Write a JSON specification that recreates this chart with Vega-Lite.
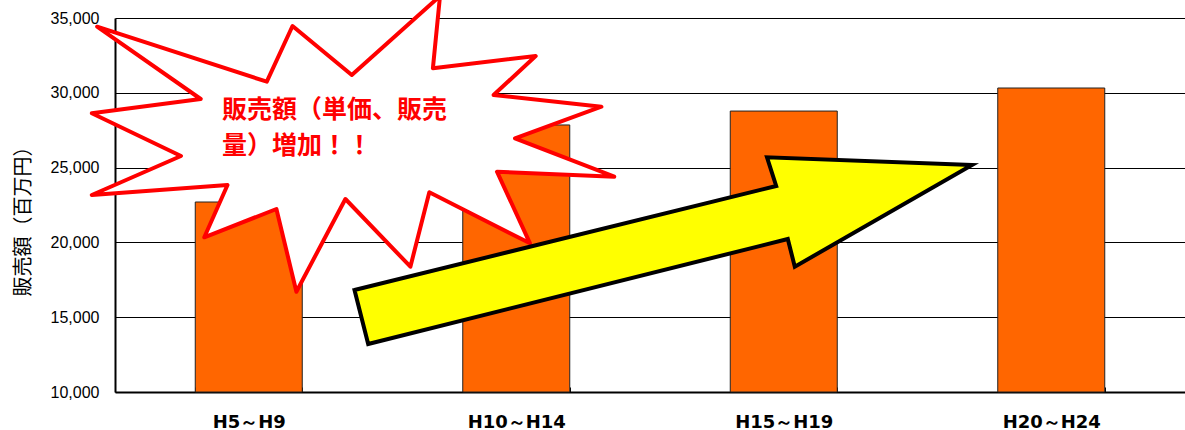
{
  "$schema": "https://vega.github.io/schema/vega-lite/v6.json",
  "width": 1070,
  "height": 374,
  "autosize": "none",
  "padding": {"left": 115, "top": 18, "right": 0, "bottom": 38},
  "background": "white",
  "config": {"view": {"stroke": null}},
  "datasets": {
    "sales": [
      {"period": "H5～H9", "v": 22700},
      {"period": "H10～H14", "v": 27850},
      {"period": "H15～H19", "v": 28780},
      {"period": "H20～H24", "v": 30320}
    ],
    "burst": [
      {"i": 1, "u": -0.0669, "v": 34418},
      {"i": 2, "u": 0.3204, "v": 29586},
      {"i": 3, "u": -0.0867, "v": 28630},
      {"i": 4, "u": 0.2467, "v": 25775},
      {"i": 5, "u": -0.0867, "v": 23168},
      {"i": 6, "u": 0.4206, "v": 23837},
      {"i": 7, "u": 0.3338, "v": 20341},
      {"i": 8, "u": 0.6034, "v": 22233},
      {"i": 9, "u": 0.6781, "v": 16705},
      {"i": 10, "u": 0.8613, "v": 22901},
      {"i": 11, "u": 1.1043, "v": 18376},
      {"i": 12, "u": 1.175, "v": 23349},
      {"i": 13, "u": 1.5514, "v": 19940},
      {"i": 14, "u": 1.428, "v": 24726},
      {"i": 15, "u": 1.8666, "v": 24392},
      {"i": 16, "u": 1.4953, "v": 26959},
      {"i": 17, "u": 1.8183, "v": 29071},
      {"i": 18, "u": 1.4153, "v": 29853},
      {"i": 19, "u": 1.5727, "v": 32460},
      {"i": 20, "u": 1.1884, "v": 31638},
      {"i": 21, "u": 1.215, "v": 36471},
      {"i": 22, "u": 0.8852, "v": 31190},
      {"i": 23, "u": 0.6636, "v": 34465},
      {"i": 24, "u": 0.5675, "v": 30742},
      {"i": 25, "u": -0.0669, "v": 34418},
      {"i": 26, "u": 0.3204, "v": 29586}
    ],
    "arrow": [
      {"i": 1, "u": 0.8953, "v": 16818},
      {"i": 2, "u": 2.4718, "v": 23770},
      {"i": 3, "u": 2.4374, "v": 25689},
      {"i": 4, "u": 3.2037, "v": 25174},
      {"i": 5, "u": 2.5413, "v": 18376},
      {"i": 6, "u": 2.5151, "v": 20227},
      {"i": 7, "u": 0.9465, "v": 13209},
      {"i": 8, "u": 0.8953, "v": 16818},
      {"i": 9, "u": 2.4718, "v": 23770}
    ],
    "notes": [
      {"u": 0.4, "v": 28850, "t": "販売額（単価、販売"},
      {"u": 0.4, "v": 26444, "t": "量）増加！！"}
    ]
  },
  "encoding": {
    "y": {
      "field": "v", "type": "quantitative",
      "scale": {"domain": [10000, 35000], "nice": false, "zero": false},
      "axis": {
        "title": "販売額（百万円）",
        "values": [10000, 15000, 20000, 25000, 30000, 35000], "format": ",d",
        "labelFont": "Liberation Sans", "labelFontSize": 16, "labelColor": "#000000",
        "labelPadding": 16, "ticks": false, "domainColor": "#000000", "domainWidth": 2,
        "grid": true, "gridColor": "#000000", "gridWidth": 1,
        "titleFont": "Noto Sans CJK JP", "titleFontSize": 20, "titleFontWeight": "normal",
        "titleColor": "#000000", "titleX": -92, "titleY": 198, "titleBaseline": "middle", "titleAlign": "center"
      }
    }
  },
  "layer": [
    {
      "data": {"name": "sales"},
      "mark": {"type": "bar", "color": "#FF6600", "stroke": "#222222", "strokeWidth": 1},
      "encoding": {
        "x": {
          "field": "period", "type": "nominal", "sort": null,
          "scale": {"paddingInner": 0.6, "paddingOuter": 0.3},
          "axis": {
            "title": null, "labelAngle": 0, "labelFont": "DejaVu Sans", "labelFontSize": 18,
            "labelFontWeight": "bold", "labelColor": "#000000", "labelPadding": 35,
            "labelBaseline": "middle", "domainColor": "#000000", "domainWidth": 2,
            "tickColor": "#000000", "tickSize": -5, "tickWidth": 1, "tickBand": "extent", "grid": false
          }
        },
        "y2": {"datum": 10000}
      }
    },
    {
      "data": {"name": "burst"},
      "mark": {"type": "line", "fill": "#FFFFFF", "stroke": "#FF0000", "strokeWidth": 4, "strokeJoin": "round", "clip": false},
      "encoding": {
        "x": {"field": "u", "type": "quantitative", "scale": {"domain": [0, 4], "nice": false, "zero": false}, "axis": null},
        "order": {"field": "i", "type": "quantitative"}
      }
    },
    {
      "data": {"name": "notes"},
      "mark": {"type": "text", "align": "left", "baseline": "middle", "font": "Noto Sans CJK JP", "fontSize": 25, "fontWeight": "bold", "color": "#FF0000"},
      "encoding": {
        "x": {"field": "u", "type": "quantitative", "scale": {"domain": [0, 4], "nice": false, "zero": false}, "axis": null},
        "text": {"field": "t", "type": "nominal"}
      }
    },
    {
      "data": {"name": "arrow"},
      "mark": {"type": "line", "fill": "#FFFF00", "stroke": "#000000", "strokeWidth": 4, "strokeJoin": "miter", "clip": false},
      "encoding": {
        "x": {"field": "u", "type": "quantitative", "scale": {"domain": [0, 4], "nice": false, "zero": false}, "axis": null},
        "order": {"field": "i", "type": "quantitative"}
      }
    }
  ],
  "resolve": {"scale": {"x": "independent"}, "axis": {"x": "independent"}}
}
